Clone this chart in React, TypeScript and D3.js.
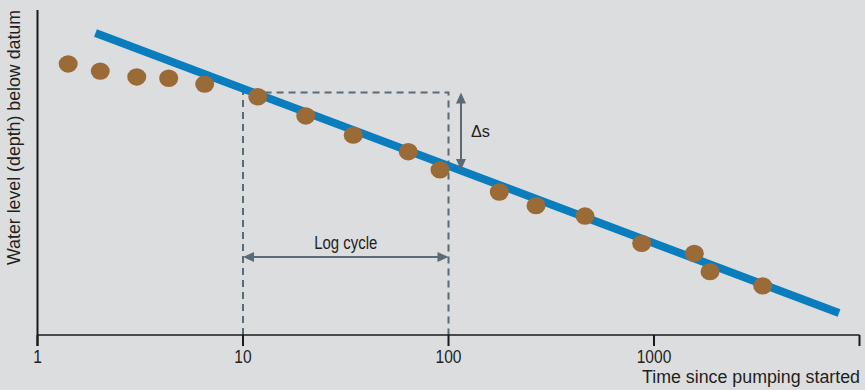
import React from "react";
import * as d3 from "d3";

// Observations: time since pumping started, water-level depth below datum (arbitrary units)
const obsTime = [1.41, 2.02, 3.04, 4.35, 6.51, 11.8, 20.2, 34.4, 63.7, 90.9, 176.7, 266.6, 461.6, 871, 1571, 1873, 3381];
const obsDepth = [16.6, 18.8, 20.6, 21.0, 22.8, 26.7, 32.6, 38.5, 43.6, 49.2, 56.0, 60.2, 63.4, 71.8, 74.9, 80.5, 84.9];

// Fitted straight line (semi-log)
const lineTime = [1.915, 7948];
const lineDepth = [7.1, 93.2];

// Tick labels
const xTicks = [1, 10, 100, 1000];
const xTickLabels = ["1", "10", "100", "1000"];
const xEnd = 10000;

// Annotation: one log cycle box and Δs
const cycleTime = [10, 100];
const boxTopDepth = 25.4;
const deltaBottomDepth = 49.2;
const deltaTime = 115;
const cycleArrowDepth = 76.0;

const W = 865;
const H = 390;
const FONT = "'Liberation Sans', Arial, sans-serif";

export default function App() {
  const x = d3.scaleLog().domain([1, xEnd]).range([37.5, 859.5]);
  const y = d3.scaleLinear().domain([0, 100]).range([10, 335]);

  const axisY = 335;
  const axisX = x(1);
  const dashColor = "#5a6b76";
  const textColor = "#231f20";

  const lineGen = d3
    .line<number>()
    .x((_, i) => x(lineTime[i]))
    .y((d) => y(d));

  const bx0 = x(cycleTime[0]);
  const bx1 = x(cycleTime[1]);
  const bTop = y(boxTopDepth);

  const dx = x(deltaTime);
  const dTop = y(boxTopDepth);
  const dBot = y(deltaBottomDepth);
  const ay = y(cycleArrowDepth);
  const ah = 11; // arrowhead length
  const aw = 5; // half width

  return (
    <svg
      width={W}
      height={H}
      style={{ position: "absolute", left: 0, top: 0, display: "block" }}
      fontFamily={FONT}
    >
      <rect x={0} y={0} width={W} height={H} fill="#dcdddf" />

      {/* dashed log-cycle box */}
      <path
        d={`M${bx0},${axisY} L${bx0},${bTop} L${bx1},${bTop} L${bx1},${axisY}`}
        fill="none"
        stroke={dashColor}
        strokeWidth={2}
        strokeDasharray="7,5"
      />

      {/* fitted line */}
      <path d={lineGen(lineDepth) || ""} fill="none" stroke="#0a7dbf" strokeWidth={8} />

      {/* observations */}
      {obsTime.map((t, i) => (
        <ellipse key={i} cx={x(t)} cy={y(obsDepth[i])} rx={9.5} ry={8.7} fill="#9a6a37" />
      ))}

      {/* Δs arrow */}
      <line x1={dx} x2={dx} y1={dTop + ah - 1} y2={dBot - ah + 1} stroke={dashColor} strokeWidth={2} />
      <path d={`M${dx},${dTop} L${dx - aw},${dTop + ah} L${dx + aw},${dTop + ah} Z`} fill={dashColor} />
      <path d={`M${dx},${dBot} L${dx - aw},${dBot - ah} L${dx + aw},${dBot - ah} Z`} fill={dashColor} />
      <text x={dx + 10} y={(dTop + dBot) / 2 + 6} fontSize={16} fill={textColor} textLength={19} lengthAdjust="spacingAndGlyphs">
        Δs
      </text>

      {/* Log cycle arrow */}
      <line x1={bx0 + ah - 1} x2={bx1 - ah + 1} y1={ay} y2={ay} stroke={dashColor} strokeWidth={2} />
      <path d={`M${bx0},${ay} L${bx0 + ah},${ay - aw} L${bx0 + ah},${ay + aw} Z`} fill={dashColor} />
      <path d={`M${bx1},${ay} L${bx1 - ah},${ay - aw} L${bx1 - ah},${ay + aw} Z`} fill={dashColor} />
      <text
        x={(bx0 + bx1) / 2 - 31.5}
        y={ay - 8}
        fontSize={17.5}
        fill={textColor}
        textLength={63}
        lengthAdjust="spacingAndGlyphs"
      >
        Log cycle
      </text>

      {/* axes */}
      <line x1={axisX} x2={axisX} y1={10} y2={axisY + 11} stroke="#1a1a1a" strokeWidth={2} />
      <line x1={axisX} x2={x(xEnd)} y1={axisY} y2={axisY} stroke="#1a1a1a" strokeWidth={1.6} />
      {[...xTicks, xEnd].map((t) => (
        <line key={t} x1={x(t)} x2={x(t)} y1={axisY} y2={axisY + 11} stroke="#1a1a1a" strokeWidth={2} />
      ))}
      {xTicks.map((t, i) => (
        <text
          key={t}
          transform={`translate(${x(t)},363) scale(0.82,1)`}
          fontSize={19}
          textAnchor="middle"
          fill={textColor}
        >
          {xTickLabels[i]}
        </text>
      ))}
      <text
        x={642}
        y={383}
        fontSize={17.5}
        fill={textColor}
        textLength={218}
        lengthAdjust="spacingAndGlyphs"
      >
        Time since pumping started
      </text>
      <text
        transform={`translate(20,265) rotate(-90)`}
        fontSize={18.5}
        fill={textColor}
        textLength={255}
        lengthAdjust="spacingAndGlyphs"
      >
        Water level (depth) below datum
      </text>
    </svg>
  );
}
